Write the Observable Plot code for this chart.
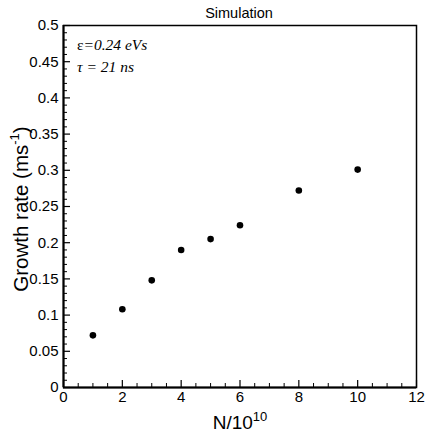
<!DOCTYPE html>
<html><head><meta charset="utf-8">
<script src="https://cdn.jsdelivr.net/npm/d3@7"></script>
<script src="https://cdn.jsdelivr.net/npm/@observablehq/plot@0.6"></script>
<style>body{margin:0;background:#fff}svg{display:block}</style>
</head><body><div id="chart"></div>
<script>
const N = [1, 2, 3, 4, 5, 6, 8, 10];
const growth = [0.072, 0.108, 0.148, 0.19, 0.205, 0.224, 0.272, 0.301];
const xTicks = [0, 2, 4, 6, 8, 10, 12];
const yTicks = [0, 0.05, 0.1, 0.15, 0.2, 0.25, 0.3, 0.35, 0.4, 0.45, 0.5];
const xMinor = d3.range(0, 12.01, 0.5).filter(v => v % 2 !== 0);
const yMinor = d3.range(0, 50.5, 1).map(v => v / 100).filter(v => Math.round(v * 100) % 5 !== 0);
const title = "Simulation";
const xLabel = ["N/10", "10"];
const yLabel = ["Growth rate (ms", "-1", ")"];
const note1 = ["ε", "=0.24 eVs"];
const note2 = "τ = 21 ns";

const data = N.map((n, i) => ({n, g: growth[i]}));
const W = 425, H = 438, mt = 25, mb = 51, ml = 63, mr = 9;
const fh = H - mt - mb, fw = W - ml - mr;

const plot = Plot.plot({
  width: W, height: H,
  marginTop: mt, marginBottom: mb, marginLeft: ml, marginRight: mr,
  style: {fontFamily: "'Liberation Sans', Arial, sans-serif", fontSize: "15px", color: "#000", background: "#fff"},
  x: {domain: [0, 12]},
  y: {domain: [0, 0.5]},
  marks: [
    Plot.frame({stroke: "#000", strokeWidth: 1.5}),
    Plot.tickX(xMinor, {x: d => d, stroke: "#000", strokeWidth: 1, insetTop: fh - 4}),
    Plot.tickX(xTicks, {x: d => d, stroke: "#000", strokeWidth: 1.2, insetTop: fh - 7}),
    Plot.tickY(yMinor, {y: d => d, stroke: "#000", strokeWidth: 1, insetRight: fw - 4}),
    Plot.tickY(yTicks, {y: d => d, stroke: "#000", strokeWidth: 1.2, insetRight: fw - 7}),
    Plot.ruleX([0], {stroke: "#000", strokeWidth: 2}),
    Plot.ruleY([0], {stroke: "#000", strokeWidth: 2}),
    Plot.axisX({ticks: xTicks, tickSize: 0, tickPadding: 4, label: null, fontSize: 15}),
    Plot.axisY({ticks: yTicks, tickSize: 0, tickPadding: 5, label: null, fontSize: 15, tickFormat: d => String(+d.toFixed(2))}),
    Plot.dot(data, {x: "n", y: "g", r: 3.3, fill: "#000", stroke: "none"})
  ]
});
document.getElementById("chart").appendChild(plot);

const svg = d3.select(plot);
// title
svg.append("text").attr("x", 239).attr("y", 18).attr("text-anchor", "middle")
  .attr("font-size", 14.5).attr("fill", "#000").text(title);
// x label
const xl = svg.append("text").attr("x", 240).attr("y", 429).attr("text-anchor", "middle")
  .attr("font-size", 19).attr("fill", "#000");
xl.append("tspan").text(xLabel[0]);
xl.append("tspan").attr("dy", -8).attr("font-size", 13).text(xLabel[1]);
// y label
const yl = svg.append("text").attr("transform", "translate(28,209) rotate(-90)").attr("text-anchor", "middle")
  .attr("font-size", 20.5).attr("fill", "#000");
yl.append("tspan").text(yLabel[0]);
yl.append("tspan").attr("dy", -9).attr("font-size", 13).text(yLabel[1]);
yl.append("tspan").attr("dy", 9).text(yLabel[2]);
// notes
const n1 = svg.append("text").attr("x", 77).attr("y", 50).attr("font-size", 15.5).attr("text-anchor", "start")
  .attr("font-family", "'Liberation Serif', 'Times New Roman', serif").attr("fill", "#000");
n1.append("tspan").text(note1[0]);
n1.append("tspan").attr("font-style", "italic").text(note1[1]);
svg.append("text").attr("x", 77).attr("y", 72).attr("font-size", 15.5).attr("text-anchor", "start")
  .attr("font-family", "'Liberation Serif', 'Times New Roman', serif").attr("font-style", "italic")
  .attr("fill", "#000").text(note2);
</script></body></html>
